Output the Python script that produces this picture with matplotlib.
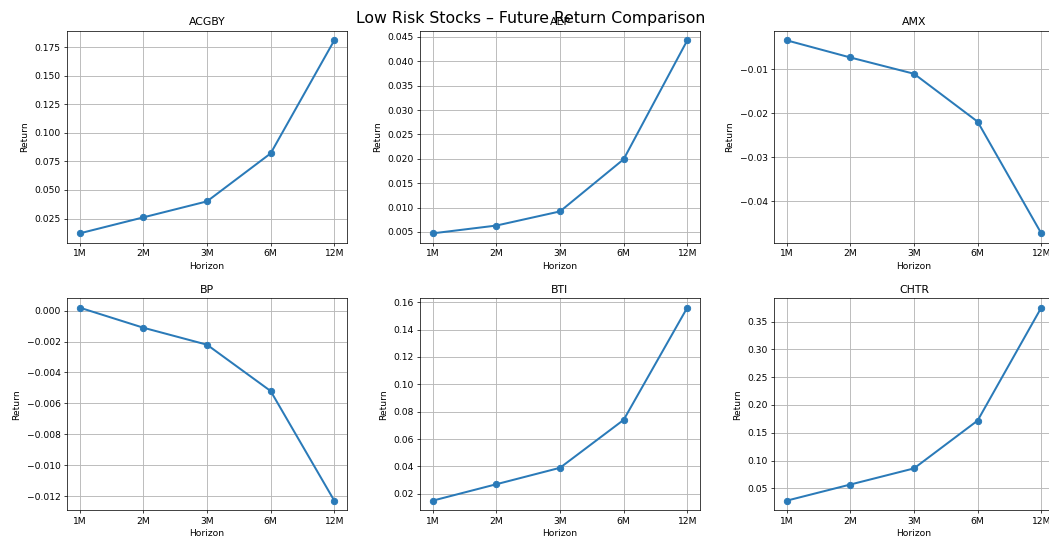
import matplotlib
matplotlib.use("Agg")
import matplotlib.pyplot as plt

horizons = ["1M", "2M", "3M", "6M", "12M"]
tickers = ["ACGBY", "AEP", "AMX", "BP", "BTI", "CHTR"]
acgby = [0.012, 0.026, 0.040, 0.082, 0.181]
aep = [0.0047, 0.0063, 0.0092, 0.0199, 0.0443]
amx = [-0.0034, -0.0073, -0.0110, -0.0219, -0.0473]
bp = [0.0002, -0.0011, -0.0022, -0.0052, -0.0123]
bti = [0.015, 0.027, 0.039, 0.074, 0.156]
chtr = [0.028, 0.057, 0.086, 0.172, 0.375]
series = [acgby, aep, amx, bp, bti, chtr]

W, H = 1049, 537
fig = plt.figure(figsize=(16, 16 * H / W), dpi=W / 16)

lefts = [67, 420, 774]
tops = [30.7, 298]
aw, ah = 280, 212.3

for i, (name, vals) in enumerate(zip(tickers, series)):
    r, c = divmod(i, 3)
    l = lefts[c] / W
    b = 1 - (tops[r] + ah) / H
    ax = fig.add_axes([l, b, aw / W, ah / H])
    ax.plot(horizons, vals, marker="o", color="#2a7ab8", linewidth=2.2,
            markersize=7)
    ax.set_title(name)
    ax.set_xlabel("Horizon")
    ax.set_ylabel("Return", labelpad=6)
    ax.grid(True, color="#b8b8b8", linewidth=1.0)

fig.text(531 / W, 1 - 19 / H, "Low Risk Stocks – Future Return Comparison",
         ha="center", va="center", fontsize=17.3)

fig.savefig("out.png", dpi=W / 16)
